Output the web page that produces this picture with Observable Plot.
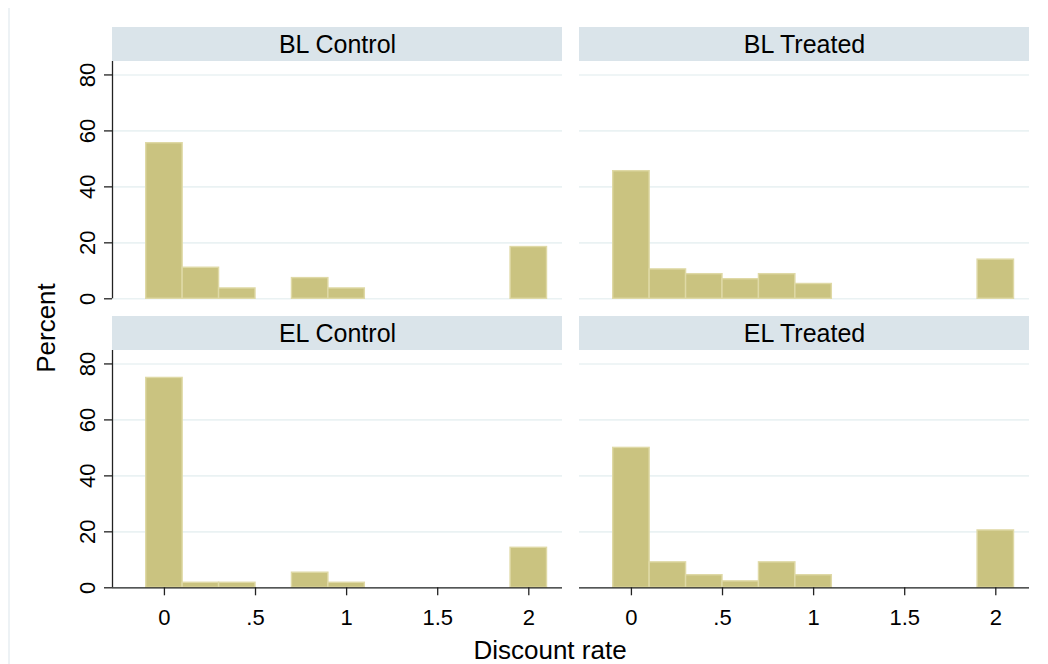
<!DOCTYPE html>
<html><head><meta charset="utf-8">
<script src="https://cdn.jsdelivr.net/npm/d3@7"></script>
<script src="https://cdn.jsdelivr.net/npm/@observablehq/plot@0.6"></script>
<style>
body{margin:0;background:#fff;font-family:"Liberation Sans",Arial,sans-serif;}
#wrap{position:relative;width:1048px;height:664px;overflow:hidden;background:#fff;}
#wrap svg{position:absolute;left:0;top:0;}
#border{position:absolute;left:8px;top:8px;width:2px;height:656px;background:#edf2f5;}
.ylab{position:absolute;left:46px;top:328px;transform:translate(-50%,-50%) rotate(-90deg);font-size:26px;white-space:nowrap;color:#000;}
.xlab{position:absolute;left:550px;top:650px;transform:translate(-50%,-50%);font-size:26px;white-space:nowrap;color:#000;}
</style></head>
<body><div id="wrap"><div id="border"></div></div>
<script>
// ---- data ----
const times = ["BL", "EL"];
const groups = ["Control", "Treated"];
const binCenters = [0, 0.2, 0.4, 0.6, 0.8, 1.0, 2.0];
const binWidth = 0.2;
const blControl = [55.6, 11.1, 3.7, 0, 7.4, 3.7, 18.5];
const blTreated = [45.6, 10.5, 8.8, 7.0, 8.8, 5.3, 14.0];
const elControl = [75.0, 1.8, 1.8, 0, 5.4, 1.8, 14.3];
const elTreated = [50.0, 9.1, 4.5, 2.3, 9.1, 4.5, 20.5];
const yTicks = [0, 20, 40, 60, 80];
const xTicks = [0, 0.5, 1, 1.5, 2];
const xTickLabels = ["0", ".5", "1", "1.5", "2"];
const xTitle = "Discount rate";
const yTitle = "Percent";

// ---- tables ----
const panels = [
  {time: "BL", group: "Control", values: blControl},
  {time: "BL", group: "Treated", values: blTreated},
  {time: "EL", group: "Control", values: elControl},
  {time: "EL", group: "Treated", values: elTreated}
];
const rows = panels.flatMap(p => binCenters.map((c, i) => ({
  time: p.time, group: p.group, x1: c - binWidth / 2, x2: c + binWidth / 2, pct: p.values[i]
}))).filter(d => d.pct > 0);
const stripRows = panels.map(p => ({time: p.time, group: p.group, label: p.time + " " + p.group}));
const leftRows = times.map(t => ({time: t, group: groups[0]}));
const bottomRows = groups.map(g => ({time: times[times.length - 1], group: g}));
const yTickRows = leftRows.flatMap(r => yTicks.map(v => ({...r, v, label: String(v)})));

// ---- layout ----
const W = 1048, H = 664;
const mL = 112, mR = 19, mT = 61, mB = 76.7;
const panelH = 237.3, gapY = 51.7, panelW = 450, gapX = 17;
const xDomain = [-0.285, 2.185];
const yDomain = [0, 84.8];
const pxPerY = panelH / (yDomain[1] - yDomain[0]);
const stripUnits = 34 / pxPerY;

const chart = Plot.plot({
  width: W, height: H,
  marginLeft: mL, marginRight: mR, marginTop: mT, marginBottom: mB,
  style: {fontFamily: "'Liberation Sans', Arial, sans-serif", fontSize: "22px", color: "#000", background: "transparent", overflow: "visible"},
  x: {domain: xDomain},
  y: {domain: yDomain},
  fx: {domain: groups, paddingInner: gapX / (panelW + gapX), paddingOuter: 0, round: false, axis: null},
  fy: {domain: times, paddingInner: gapY / (panelH + gapY), paddingOuter: 0, round: false, axis: null},
  marks: [
    Plot.ruleY(yTicks, {stroke: "#eaf2f3", strokeWidth: 1.6}),
    Plot.rectY(rows, {x1: "x1", x2: "x2", y: "pct", fx: "group", fy: "time", fill: "#cac380", stroke: "#dfd9a6", strokeWidth: 1.4}),
    Plot.ruleX(leftRows, {x: xDomain[0], y1: yDomain[0], y2: yDomain[1], fx: "group", fy: "time", stroke: "#222", strokeWidth: 1.3}),
    Plot.ruleY(bottomRows, {y: 0, fx: "group", fy: "time", stroke: "#222", strokeWidth: 1.3}),
    Plot.axisY(yTicks, {tickSize: 8, tickFormat: () => "", label: null, stroke: "#222", strokeWidth: 1.3}),
    Plot.text(yTickRows, {y: "v", text: "label", fx: "group", fy: "time", frameAnchor: "left", dx: -24.5, rotate: -90, fontSize: 22, fill: "#000", lineAnchor: "middle", textAnchor: "middle"}),
    Plot.axisX(xTicks, {tickSize: 8, tickPadding: 14, tickFormat: d => xTickLabels[xTicks.indexOf(d)], fontSize: 22, label: null, stroke: "#222", strokeWidth: 1.3, fill: "#000"}),
    Plot.rect(stripRows, {x1: xDomain[0], x2: xDomain[1], y1: yDomain[1], y2: yDomain[1] + stripUnits, fx: "group", fy: "time", fill: "#dae4ea"}),
    Plot.text(stripRows, {x: (xDomain[0] + xDomain[1]) / 2, y: yDomain[1] + stripUnits / 2, text: "label", fx: "group", fy: "time", fontSize: 25, fill: "#000", lineAnchor: "middle"})
  ]
});
const wrap = document.getElementById("wrap");
wrap.appendChild(chart);
const yl = document.createElement("div"); yl.className = "ylab"; yl.textContent = yTitle; wrap.appendChild(yl);
const xl = document.createElement("div"); xl.className = "xlab"; xl.textContent = xTitle; wrap.appendChild(xl);
</script>
</body></html>
